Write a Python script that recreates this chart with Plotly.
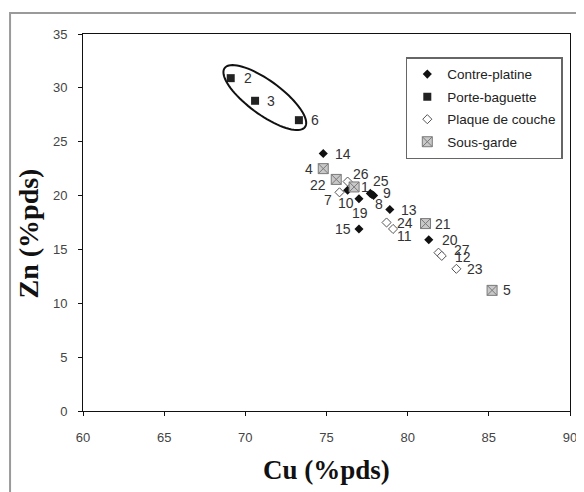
"""
Composition Cu / Zn des pièces de garniture
"""
import numpy as np
import plotly.graph_objects as go

# Contre-platine
cp_labels = ["14", "10", "19", "25", "9", "8", "13", "15", "20"]
cp_cu = [74.8, 76.3, 77.0, 77.7, 77.9, 77.8, 78.9, 77.0, 81.3]
cp_zn = [23.9, 20.5, 19.7, 20.2, 20.0, 20.1, 18.7, 16.9, 15.9]

# Porte-baguette
pb_labels = ["2", "3", "6"]
pb_cu = [69.1, 70.6, 73.3]
pb_zn = [30.9, 28.8, 27.0]

# Plaque de couche
pc_labels = ["26", "7", "24", "11", "27", "12", "23"]
pc_cu = [76.3, 75.8, 78.7, 79.1, 81.9, 82.1, 83.0]
pc_zn = [21.3, 20.3, 17.5, 16.9, 14.7, 14.4, 13.2]

# Sous-garde
sg_labels = ["4", "22", "1", "21", "5"]
sg_cu = [74.8, 75.6, 76.7, 81.1, 85.2]
sg_zn = [22.5, 21.5, 20.8, 17.4, 11.2]

x_ticks = [60, 65, 70, 75, 80, 85, 90]
y_ticks = [0, 5, 10, 15, 20, 25, 30, 35]

# decalage des etiquettes en pixels (droite, haut)
label_offsets = {
    "2": (17, 0), "3": (16, 0), "6": (16, 0), "14": (20, 0), "4": (-14, 0),
    "22": (-18, -6), "1": (11, 0), "26": (13, 8), "10": (-2, -13), "19": (1, -14),
    "7": (-11, -8), "25": (11, 12), "9": (13, 3), "8": (7, -10), "13": (19, 0),
    "24": (18, 0), "11": (11, -7), "15": (-16, 0), "21": (17, 0), "20": (21, 0),
    "27": (23, 3), "12": (21, -1), "23": (19, 0), "5": (15, 0),
}

# la page html ajoute 8 px de marge (body), la figure est donc reduite d'autant
W, H = 576, 484
M = dict(l=75, r=7, t=26, b=81)

fig = go.Figure()

fig.add_trace(go.Scatter(x=cp_cu, y=cp_zn, mode="markers", name="Contre-platine",
                         legendgroup="cp",
                         marker=dict(symbol="diamond", size=7, color="#111111",
                                     line=dict(width=0))))
fig.add_trace(go.Scatter(x=pb_cu, y=pb_zn, mode="markers", name="Porte-baguette",
                         legendgroup="pb",
                         marker=dict(symbol="square", size=8, color="#222222",
                                     line=dict(width=0))))
fig.add_trace(go.Scatter(x=pc_cu, y=pc_zn, mode="markers", name="Plaque de couche",
                         legendgroup="pc",
                         marker=dict(symbol="diamond", size=7, color="white",
                                     line=dict(width=1, color="#555555"))))
fig.add_trace(go.Scatter(x=sg_cu, y=sg_zn, mode="markers", name="Sous-garde",
                         legendgroup="sg",
                         marker=dict(symbol="square-x", size=10, color="#c8c8c8",
                                     line=dict(width=1, color="#7a7a7a"))))

# etiquettes des points
for labels, xs, ys in [(cp_labels, cp_cu, cp_zn), (pb_labels, pb_cu, pb_zn),
                       (pc_labels, pc_cu, pc_zn), (sg_labels, sg_cu, sg_zn)]:
    for lab, xv, yv in zip(labels, xs, ys):
        dx, dy = label_offsets[lab]
        fig.add_annotation(x=xv, y=yv, text=lab, showarrow=False,
                           xshift=dx, yshift=dy,
                           font=dict(family="Liberation Sans, Arial", size=14, color="#333333"))

# ellipse autour des porte-baguettes
plot_w = W - M["l"] - M["r"]
plot_h = H - M["t"] - M["b"]
px_x = plot_w / (x_ticks[-1] - x_ticks[0])
px_y = plot_h / (y_ticks[-1] - y_ticks[0])
cx, cy = np.mean([pb_cu[0], pb_cu[-1]]), np.mean(pb_zn) + 0.2
a, b, theta = 50.3, 17.0, np.radians(35.8)
t = np.linspace(0, 2 * np.pi, 80)
dx = a * np.cos(t) * np.cos(theta) - b * np.sin(t) * np.sin(theta)
dy = a * np.cos(t) * np.sin(theta) + b * np.sin(t) * np.cos(theta)
ex = cx + dx / px_x
ey = cy - dy / px_y
path = "M " + " L ".join(f"{u:.4f},{v:.4f}" for u, v in zip(ex, ey)) + " Z"
fig.add_shape(type="path", path=path, xref="x", yref="y",
              line=dict(color="#111111", width=2))

# cadre gris exterieur (coupe a droite et en bas)
fig.add_shape(type="rect", xref="paper", yref="paper",
              x0=(1 - M["l"]) / plot_w, x1=(W + 20 - M["l"]) / plot_w,
              y0=-(M["b"] + 20) / plot_h, y1=(H - 5 - M["b"]) / plot_h,
              line=dict(color="#9a9a9a", width=2), layer="below")

fig.add_annotation(text="<b>Cu (%pds)</b>", xref="paper", yref="paper", x=0.5, y=0,
                   xanchor="center", yanchor="middle",
                   yshift=-59, showarrow=False,
                   font=dict(family="Liberation Serif, Times New Roman", size=27, color="#111111"))
fig.add_annotation(text="<b>Zn (%pds)</b>", xref="paper", yref="paper", x=0, y=0.5,
                   xanchor="center", yanchor="middle",
                   xshift=-(M["l"] - 20), yshift=-11, textangle=-90, showarrow=False,
                   font=dict(family="Liberation Serif, Times New Roman", size=28, color="#111111"))

axis_common = dict(showgrid=False, zeroline=False, showline=True, linecolor="#111111",
                   linewidth=1, mirror=True, ticks="outside", ticklen=4,
                   tickcolor="#111111", ticklabeloverflow="allow",
                   tickfont=dict(family="Liberation Sans, Arial", size=13, color="#444444"))

fig.update_layout(
    width=W, height=H,
    margin=M,
    paper_bgcolor="white",
    plot_bgcolor="white",
    showlegend=True,
    legend=dict(x=(561.7 - M["l"]) / plot_w, xanchor="right",
                y=(H - 49.3 - M["b"]) / plot_h, yanchor="top",
                bordercolor="#666666", borderwidth=1.5, bgcolor="white",
                tracegroupgap=2,
                font=dict(family="Liberation Sans, Arial", size=13.5, color="#222222")),
    xaxis=dict(range=[x_ticks[0], x_ticks[-1]], tickvals=x_ticks, ticklabelstandoff=10,
               **axis_common),
    yaxis=dict(range=[y_ticks[0], y_ticks[-1]], tickvals=y_ticks, ticklabelstandoff=8,
               **axis_common),
)

fig.write_html("out.html")
